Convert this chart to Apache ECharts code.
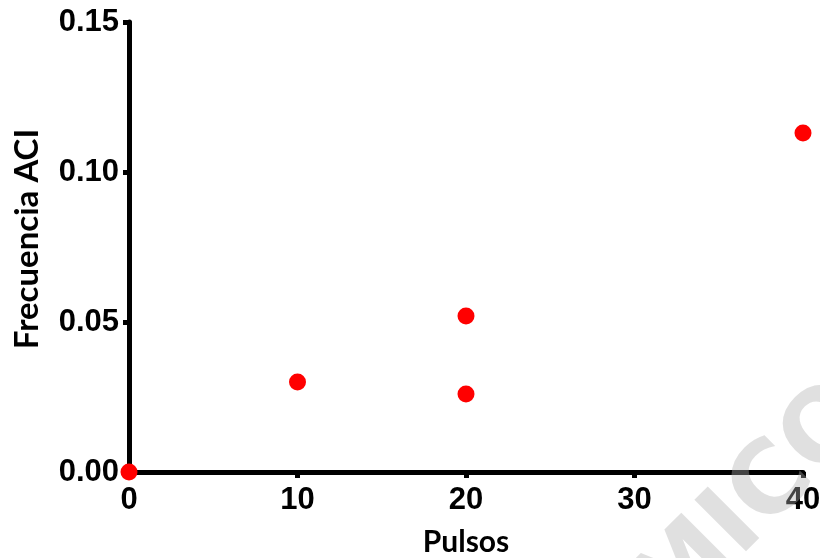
<!DOCTYPE html>
<html>
<head>
<meta charset="utf-8">
<script src="https://cdn.jsdelivr.net/npm/echarts@6/dist/echarts.min.js"></script>
<style>
html,body{margin:0;padding:0;background:#fff;}
#chart{width:820px;height:558px;}
</style>
</head>
<body>
<div id="chart"></div>
<script>
// Data
const pulsos = [0, 10, 20, 20, 40];
const frecuencia = [0.000, 0.030, 0.052, 0.026, 0.113];
const xTicks = [0, 10, 20, 30, 40];
const yTicks = [0.00, 0.05, 0.10, 0.15];
const xTitle = 'Pulsos';
const yTitle = 'Frecuencia ACI';

const points = pulsos.map((x, i) => [x, frecuencia[i]]);

const chart = echarts.init(document.getElementById('chart'));
const tickFont = {color: '#000', fontFamily: 'Liberation Sans, Arial, sans-serif', fontWeight: 'bold', fontSize: 31};

chart.setOption({
  animation: false,
  backgroundColor: '#fff',
  grid: {left: 129, right: 17, top: 22, bottom: 86, containLabel: false, outerBoundsMode: 'none'},
  xAxis: {
    type: 'value',
    min: xTicks[0], max: xTicks[xTicks.length - 1], interval: 10,
    name: xTitle, nameLocation: 'middle', nameGap: 55,
    nameTextStyle: {color: '#000', fontFamily: 'Lato, sans-serif', fontWeight: 'bold', fontSize: 30},
    axisLine: {show: true, onZero: false, lineStyle: {color: '#000', width: 5}},
    axisTick: {show: true, inside: false, length: 6, lineStyle: {color: '#000', width: 5}},
    axisLabel: Object.assign({margin: 13}, tickFont),
    splitLine: {show: false}
  },
  yAxis: {
    type: 'value',
    min: yTicks[0], max: yTicks[yTicks.length - 1], interval: 0.05,
    name: yTitle, nameLocation: 'middle', nameGap: 85, nameRotate: 90,
    nameTextStyle: {color: '#000', fontFamily: 'Lato, sans-serif', fontWeight: 'bold', fontSize: 33, padding: [0, 0, 0, 16]},
    axisLine: {show: true, onZero: false, lineStyle: {color: '#000', width: 5}},
    axisTick: {show: true, inside: false, length: 6, lineStyle: {color: '#000', width: 5}},
    axisLabel: Object.assign({margin: 10, formatter: v => v.toFixed(2)}, tickFont),
    splitLine: {show: false}
  },
  series: [{
    type: 'scatter',
    data: points,
    symbol: 'circle',
    symbolSize: 17,
    clip: false,
    z: 5,
    itemStyle: {color: '#ff0000', opacity: 1}
  }],
  graphic: [{
    type: 'text',
    x: 686, y: 645,
    rotation: Math.PI * 45 / 180,
    z: 100,
    silent: true,
    style: {
      text: 'MICO',
      fill: 'rgba(174,174,174,0.39)',
      font: 'bold 100px "DejaVu Sans", "Liberation Sans", sans-serif',
      textAlign: 'left',
      textVerticalAlign: 'bottom'
    }
  }]
});
</script>
</body>
</html>
